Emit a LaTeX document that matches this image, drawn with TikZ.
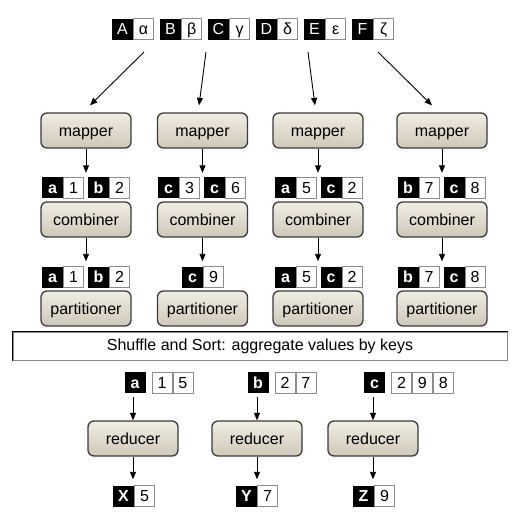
\documentclass[tikz,border=0pt]{standalone}
\usepackage{fontspec}
\setmainfont{Liberation Sans}
\usetikzlibrary{positioning,arrows.meta}
\definecolor{boxtop}{RGB}{240,237,228}
\definecolor{boxbot}{RGB}{206,200,184}
\definecolor{boxline}{RGB}{58,58,58}
\definecolor{cellline}{gray}{0.55}
\tikzset{
  fig/.style={x=1pt,y=-1pt,font=\fontsize{16}{18}\selectfont},
  task/.style={draw=boxline,line width=1.3pt,rounded corners=6pt,
               top color=boxtop,bottom color=boxbot,minimum width=90pt,
               minimum height=35pt,inner sep=0pt,text height=11.5pt,text depth=0pt},
  key/.style={fill=black,text=white,minimum width=21pt,minimum height=21pt,
              inner sep=0pt,text height=11.5pt,text depth=0pt,
              font=\fontsize{16}{16}\selectfont\bfseries},
  topkey/.style={key,font=\fontsize{16}{16}\selectfont},
  val/.style={draw=cellline,line width=0.8pt,fill=white,minimum width=20pt,
              minimum height=21pt,inner sep=0pt,text height=11.5pt,text depth=0pt,
              font=\fontsize{16}{16}\selectfont},
  ln/.style={-{Triangle[length=7.5pt,width=6pt]},line width=0.9pt},
}

\begin{document}
\begin{tikzpicture}[fig]
\useasboundingbox (0,0) rectangle (524,515);

\node[topkey] (kA) at (122.5,29) {A}; \node[val,right=0pt of kA] (vA) {α};
\node[topkey] (kB) at (170.5,29) {B}; \node[val,right=0pt of kB] (vB) {β};
\node[topkey] (kC) at (218.5,29) {C}; \node[val,right=0pt of kC] (vC) {γ};
\node[topkey] (kD) at (266.5,29) {D}; \node[val,right=0pt of kD] (vD) {δ};
\node[topkey] (kE) at (314.5,29) {E}; \node[val,right=0pt of kE] (vE) {ε};
\node[topkey] (kF) at (362.5,29) {F}; \node[val,right=0pt of kF] (vF) {ζ};

\node[task] (map1) at (86,130.5) {mapper};
\node[task] (map2) at (202.5,130.5) {mapper};
\node[task] (map3) at (318,130.5) {mapper};
\node[task] (map4) at (442,130.5) {mapper};

\coordinate (s1) at (144,52);  \coordinate (e1) at ([xshift=4pt,yshift=7pt]map1.north);
\coordinate (s2) at (206,52);  \coordinate (e2) at ([xshift=-3.5pt,yshift=7pt]map2.north);
\coordinate (s3) at (308,52);  \coordinate (e3) at ([xshift=-3pt,yshift=7pt]map3.north);
\coordinate (s4) at (378,52);  \coordinate (e4) at ([xshift=-10pt,yshift=7pt]map4.north);
\draw[ln] (s1) -- (e1);
\draw[ln] (s2) -- (e2);
\draw[ln] (s3) -- (e3);
\draw[ln] (s4) -- (e4);

\node[key] (o1ka) at (52.5,187.5) {a};  \node[val,right=0pt of o1ka] (o1va) {1};
\node[key] (o1kb) at (98.5,187.5) {b};  \node[val,right=0pt of o1kb] (o1vb) {2};
\node[key] (o2kc) at (168.5,187.5) {c}; \node[val,right=0pt of o2kc] (o2vc) {3};
\node[key] (o2kd) at (214.5,187.5) {c}; \node[val,right=0pt of o2kd] (o2vd) {6};
\node[key] (o3ka) at (285.5,187.5) {a}; \node[val,right=0pt of o3ka] (o3va) {5};
\node[key] (o3kc) at (331,187.5) {c};   \node[val,right=0pt of o3kc] (o3vc) {2};
\node[key] (o4kb) at (408,187.5) {b};   \node[val,right=0pt of o4kb] (o4vb) {7};
\node[key] (o4kc) at (454,187.5) {c};   \node[val,right=0pt of o4kc] (o4vc) {8};

\draw[ln,shorten >=4pt] (map1) -- (map1 |- o1ka.north);
\draw[ln,shorten >=4pt] (map2) -- (map2 |- o2kc.north);
\draw[ln,shorten >=4pt] (map3) -- (map3 |- o3ka.north);
\draw[ln,shorten >=4pt] (map4) -- (map4 |- o4kb.north);

\node[task] (comb1) at (86,219.5) {combiner};
\node[task] (comb2) at (202.5,219.5) {combiner};
\node[task] (comb3) at (318,219.5) {combiner};
\node[task] (comb4) at (442,219.5) {combiner};

\node[key] (c1ka) at (52.5,277) {a};  \node[val,right=0pt of c1ka] (c1va) {1};
\node[key] (c1kb) at (98.5,277) {b};  \node[val,right=0pt of c1kb] (c1vb) {2};
\node[key] (c2kc) at (192.5,277) {c}; \node[val,right=0pt of c2kc] (c2vc) {9};
\node[key] (c3ka) at (285.5,277) {a}; \node[val,right=0pt of c3ka] (c3va) {5};
\node[key] (c3kc) at (331,277) {c};   \node[val,right=0pt of c3kc] (c3vc) {2};
\node[key] (c4kb) at (408,277) {b};   \node[val,right=0pt of c4kb] (c4vb) {7};
\node[key] (c4kc) at (454,277) {c};   \node[val,right=0pt of c4kc] (c4vc) {8};

\draw[ln,shorten >=5pt] (comb1) -- (comb1 |- c1ka.north);
\draw[ln,shorten >=5pt] (comb2) -- (comb2 |- c2kc.north);
\draw[ln,shorten >=5pt] (comb3) -- (comb3 |- c3ka.north);
\draw[ln,shorten >=5pt] (comb4) -- (comb4 |- c4kb.north);

\node[task] (part1) at (86,308.5) {partitioner};
\node[task] (part2) at (202.5,308.5) {partitioner};
\node[task] (part3) at (318,308.5) {partitioner};
\node[task] (part4) at (442,308.5) {partitioner};

\node[draw=cellline,line width=1pt,minimum width=494pt,minimum height=28pt,
      inner sep=0pt] (shuf) at (260,346) {Shuffle and Sort: aggregate values by keys};
\draw[line width=1pt] (shuf.south west) |- (shuf.north east);

\node[key] (ska) at (135,382.5) {a};
\node[val,right=6pt of ska] (sa1) {1};  \node[val,right=0pt of sa1] (sa2) {5};
\node[key] (skb) at (258,382.5) {b};
\node[val,right=6pt of skb] (sb1) {2};  \node[val,right=0pt of sb1] (sb2) {7};
\node[key] (skc) at (374.5,382.5) {c};
\node[val,right=6pt of skc] (sc1) {2};  \node[val,right=0pt of sc1] (sc2) {9};
\node[val,right=0pt of sc2] (sc3) {8};

\node[task] (red1) at (133,438.5) {reducer};
\node[task] (red2) at (257,438.5) {reducer};
\node[task] (red3) at (373,438.5) {reducer};

\draw[ln,shorten <=4pt] (red1 |- ska.south) -- (red1);
\draw[ln,shorten <=4pt] (red2 |- skb.south) -- (red2);
\draw[ln,shorten <=4pt] (red3 |- skc.south) -- (red3);

\node[key] (kX) at (123.5,496) {X}; \node[val,right=0pt of kX] (vX) {5};
\node[key] (kY) at (246.5,496) {Y}; \node[val,right=0pt of kY] (vY) {7};
\node[key] (kZ) at (363.5,496) {Z}; \node[val,right=0pt of kZ] (vZ) {9};

\draw[ln,shorten >=6pt] (red1) -- (red1 |- kX.north);
\draw[ln,shorten >=6pt] (red2) -- (red2 |- kY.north);
\draw[ln,shorten >=6pt] (red3) -- (red3 |- kZ.north);

\end{tikzpicture}
\end{document}
